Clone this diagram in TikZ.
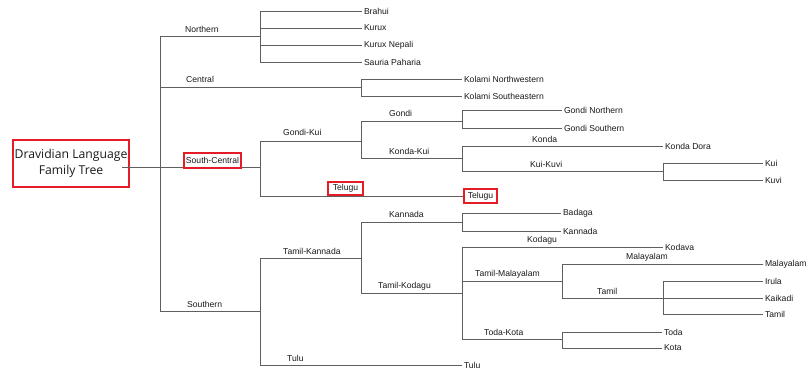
\documentclass[tikz,border=0pt]{standalone}
\usepackage{fontspec}
\newfontfamily\lblfamily{Liberation Sans}
\newfontfamily\titlefamily{Open Sans}
\definecolor{linegray}{RGB}{95,95,95}
\definecolor{txtgray}{RGB}{25,25,25}
\definecolor{boxred}{RGB}{228,28,38}
\tikzset{
  branch/.style={draw=linegray, line width=1pt},
  leaf/.style={anchor=west, inner sep=0pt, inner xsep=1.8pt, text=txtgray,
               font=\lblfamily\fontsize{8.6}{10}\selectfont},
  blabel/.style={anchor=west, inner sep=0pt, text=txtgray,
               font=\lblfamily\fontsize{8.6}{10}\selectfont},
  redbox/.style={draw=boxred, line width=1.8pt, inner sep=0pt, text=txtgray,
               font=\lblfamily\fontsize{8.6}{10}\selectfont},
}
\begin{document}
\begin{tikzpicture}[x=1pt, y=-1pt]
\useasboundingbox (0,0) rectangle (808,370);

% root box
\node[draw=boxred, line width=1.8pt, minimum width=116pt, minimum height=47pt,
      inner sep=0pt, align=center, text=txtgray,
      font=\titlefamily\fontsize{12.2}{15.5}\selectfont] (root) at (71,163.5)
      {Dravidian Language\\Family Tree};
\coordinate (rootout) at (122,167);
\coordinate (r) at (160,167);
\draw[branch] (rootout) -- (r);

% first-level junctions
\coordinate (north) at (260,36);
\coordinate (central) at (361,87);
\coordinate (sc) at (260,167);
\coordinate (south) at (260,311);
\draw[branch] (r) |- (north);
\draw[branch] (r) |- (central);
\draw[branch] (r) -- (sc);
\draw[branch] (r) |- (south);
\node[blabel] (lnorth) at (185,29) {Northern};
\node[blabel] (lcentral) at (186,79) {Central};
\node[redbox, minimum width=57pt, minimum height=15pt] (lsc) at (212.5,160.5) {South-Central};
\node[blabel] (lsouth) at (187,304) {Southern};

% Northern
\node[leaf] (brahui) at (362,11) {Brahui};
\node[leaf] (kurux) at (362,28) {Kurux};
\node[leaf] (kuruxn) at (362,45) {Kurux Nepali};
\node[leaf] (sauria) at (362,62) {Sauria Paharia};
\foreach \c in {brahui,kurux,kuruxn,sauria} \draw[branch] (north) |- (\c.west);

% Central
\node[leaf] (kolnw) at (462,79) {Kolami Northwestern};
\node[leaf] (kolse) at (462,96) {Kolami Southeastern};
\foreach \c in {kolnw,kolse} \draw[branch] (central) |- (\c.west);

% South-Central
\coordinate (gondikui) at (361,141);
\node[redbox, minimum width=33pt, minimum height=14pt] (telugu) at (480.5,196) {Telugu};
\draw[branch] (sc) |- (gondikui);
\draw[branch] (sc) |- (telugu.west);
\node[blabel] (lgondikui) at (283,132) {Gondi-Kui};
\node[redbox, minimum width=35pt, minimum height=13pt] (ltelugu) at (345.5,188.5) {Telugu};

\coordinate (gondi) at (462,121);
\coordinate (kondakui) at (462,158);
\draw[branch] (gondikui) |- (gondi);
\draw[branch] (gondikui) |- (kondakui);
\node[blabel] (lgondi) at (389,113) {Gondi};
\node[blabel] (lkondakui) at (389,151) {Konda-Kui};

\node[leaf] (gondin) at (562,110) {Gondi Northern};
\node[leaf] (gondis) at (562,128) {Gondi Southern};
\foreach \c in {gondin,gondis} \draw[branch] (gondi) |- (\c.west);

\node[leaf] (kondadora) at (663,146) {Konda Dora};
\coordinate (kuikuvi) at (663,171);
\draw[branch] (kondakui) |- (kondadora.west);
\draw[branch] (kondakui) |- (kuikuvi);
\node[blabel] (lkonda) at (532,139) {Konda};
\node[blabel] (lkuikuvi) at (530,164) {Kui-Kuvi};

\node[leaf] (kui) at (763,163) {Kui};
\node[leaf] (kuvi) at (763,180) {Kuvi};
\foreach \c in {kui,kuvi} \draw[branch] (kuikuvi) |- (\c.west);

% Southern
\coordinate (tamkan) at (361,258);
\node[leaf] (tulu) at (462,365) {Tulu};
\draw[branch] (south) |- (tamkan);
\draw[branch] (south) |- (tulu.west);
\node[blabel] (ltamkan) at (283,251) {Tamil-Kannada};
\node[blabel] (ltulu) at (287,358) {Tulu};

\coordinate (kannada) at (462,222);
\coordinate (tamkod) at (462,293);
\draw[branch] (tamkan) |- (kannada);
\draw[branch] (tamkan) |- (tamkod);
\node[blabel] (lkannada) at (389,214) {Kannada};
\node[blabel] (ltamkod) at (378,286) {Tamil-Kodagu};

\node[leaf] (badaga) at (561,213) {Badaga};
\node[leaf] (kannadal) at (561,231) {Kannada};
\foreach \c in {badaga,kannadal} \draw[branch] (kannada) |- (\c.west);

\node[leaf] (kodava) at (663,247) {Kodava};
\coordinate (tammal) at (562,281);
\coordinate (todakota) at (562,339);
\draw[branch] (tamkod) |- (kodava.west);
\draw[branch] (tamkod) |- (tammal);
\draw[branch] (tamkod) |- (todakota);
\node[blabel] (lkodagu) at (527,240) {Kodagu};
\node[blabel] (ltammal) at (475,274) {Tamil-Malayalam};
\node[blabel] (ltodakota) at (484,332) {Toda-Kota};

\node[leaf] (malayalam) at (763,264) {Malayalam};
\coordinate (tamil) at (663,298);
\draw[branch] (tammal) |- (malayalam.west);
\draw[branch] (tammal) |- (tamil);
\node[blabel] (lmalayalam) at (626,257) {Malayalam};
\node[blabel] (ltamil) at (597,291) {Tamil};

\node[leaf] (irula) at (763,281) {Irula};
\node[leaf] (kaikadi) at (763,298) {Kaikadi};
\node[leaf] (tamill) at (763,314) {Tamil};
\foreach \c in {irula,kaikadi,tamill} \draw[branch] (tamil) |- (\c.west);

\node[leaf] (toda) at (662,332) {Toda};
\node[leaf] (kota) at (662,348) {Kota};
\foreach \c in {toda,kota} \draw[branch] (todakota) |- (\c.west);
\end{tikzpicture}
\end{document}
